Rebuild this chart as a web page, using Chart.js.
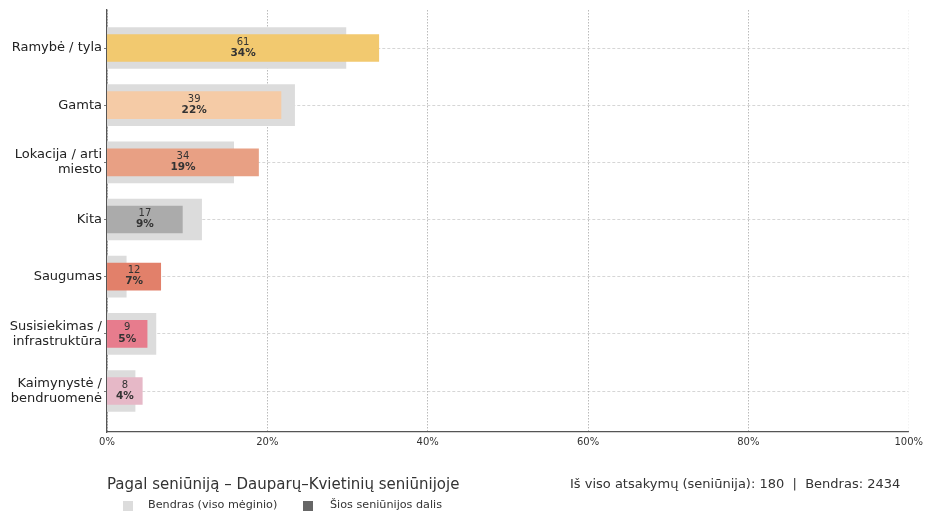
<!DOCTYPE html>
<html>
<head>
<meta charset="utf-8">
<script src="https://cdn.jsdelivr.net/npm/chart.js@4/dist/chart.umd.min.js"></script>
<style>
  html, body { margin: 0; padding: 0; background: #fff; }
  #wrap { position: relative; width: 927px; height: 511px; overflow: hidden; }
  #canvas { position: absolute; left: 0; top: 0; }
  .txt { position: absolute; white-space: pre; color: #333; font-family: "DejaVu Sans", sans-serif; }
  #title { left: 107px; top: 475px; font-size: 15px; }
  #info { left: 570px; top: 476px; font-size: 13px; }
  .sq { position: absolute; width: 10px; height: 10px; }
  .leg { font-size: 11.2px; top: 498px; }
</style>
</head>
<body>
<div id="wrap">
  <canvas id="canvas" width="927" height="511"></canvas>
  <div class="txt" id="title">Pagal seniūniją – Dauparų–Kvietinių seniūnijoje</div>
  <div class="txt" id="info">Iš viso atsakymų (seniūnija): 180  |  Bendras: 2434</div>
  <div class="sq" style="left:123px; top:501px; background:#dcdcdc;"></div>
  <div class="txt leg" style="left:148px;">Bendras (viso mėginio)</div>
  <div class="sq" style="left:303px; top:501px; background:#666;"></div>
  <div class="txt leg" style="left:330px;">Šios seniūnijos dalis</div>
</div>
<script>
  // kategorijos (eilutėmis, kaip ašyje)
  const categoryLines = [
    ['Ramybė / tyla'],
    ['Gamta'],
    ['Lokacija / arti', 'miesto'],
    ['Kita'],
    ['Saugumas'],
    ['Susisiekimas /', 'infrastruktūra'],
    ['Kaimynystė /', 'bendruomenė']
  ];
  const counts = [61, 39, 34, 17, 12, 9, 8];
  const districtPct = [33.9, 21.7, 18.9, 9.4, 6.7, 5.0, 4.4];
  const overallPct = [29.8, 23.4, 15.8, 11.8, 2.4, 6.1, 3.5];
  const barColors = ['#f2c96f', '#f5cba6', '#e8a084', '#ababab', '#e2806a', '#e77c8d', '#e6b8c7'];
  const xTicks = [0, 20, 40, 60, 80, 100];

  const ctx = document.getElementById('canvas').getContext('2d');

  // reikšmės ant stulpelių
  const valueLabels = {
    id: 'valueLabels',
    afterDatasetsDraw(chart) {
      const meta = chart.getDatasetMeta(0);
      const c = chart.ctx;
      c.save();
      c.textAlign = 'center';
      c.textBaseline = 'middle';
      c.fillStyle = '#333';
      meta.data.forEach(function(bar, i) {
        const cx = (bar.x + bar.base) / 2;
        c.font = '10px "DejaVu Sans"';
        c.fillText(String(counts[i]), cx, bar.y - 6);
        c.font = 'bold 10.5px "DejaVu Sans"';
        c.fillText(Math.round(districtPct[i]) + '%', cx, bar.y + 5);
      });
      c.restore();
    }
  };

  const data = {
    datasets: [
      {
        label: 'Šios seniūnijos dalis',
        data: districtPct.map(function(v, i) { return {x: v, y: i}; }),
        backgroundColor: barColors,
        barThickness: 27,
        grouped: false,
        order: 1
      },
      {
        label: 'Bendras (viso mėginio)',
        data: overallPct.map(function(v, i) { return {x: v, y: i}; }),
        backgroundColor: '#dcdcdc',
        barThickness: 41,
        grouped: false,
        order: 2
      }
    ]
  };

  const options = {
    responsive: false,
    animation: false,
    indexAxis: 'y',
    layout: { padding: { top: 10, right: 17, bottom: 57, left: 0 } },
    plugins: {
      legend: { display: false },
      tooltip: { enabled: false },
      title: { display: false }
    },
    scales: {
      y: {
        type: 'linear',
        reverse: true,
        offset: false,
        min: -0.665,
        max: 6.717,
        afterBuildTicks(scale) {
          scale.ticks = categoryLines.map(function(_, i) { return {value: i}; });
        },
        afterFit(scale) {
          scale.width = 107;
          scale.paddingTop = 0;
          scale.paddingBottom = 0;
        },
        ticks: {
          color: '#222',
          padding: 2,
          font: { family: '"DejaVu Sans"', size: 13, lineHeight: 1.15 },
          callback: function(v) { return categoryLines[v]; }
        },
        grid: {
          offset: false,
          color: '#cccccc',
          lineWidth: 0.8,
          tickColor: '#555',
          tickLength: 3,
          tickBorderDash: []
        },
        border: { color: '#555', width: 1.3, dash: [3, 2] }
      },
      x: {
        type: 'linear',
        min: 0,
        max: 100,
        afterBuildTicks(scale) {
          scale.ticks = xTicks.map(function(v) { return {value: v}; });
        },
        afterFit(scale) { scale.height = 22; },
        ticks: {
          color: '#333',
          padding: 4,
          font: { family: '"DejaVu Sans"', size: 10 },
          callback: function(v) { return v + '%'; }
        },
        grid: {
          drawTicks: false,
          color: function(c) { return c.tick && c.tick.value === 100 ? '#f0f0f0' : '#aaaaaa'; },
          lineWidth: 0.8
        },
        border: { color: '#555', width: 1.3, dash: [1.5, 1.5] }
      }
    }
  };

  const chart = new Chart(ctx, {
    type: 'bar',
    data: data,
    options: options,
    plugins: [valueLabels]
  });
</script>
</body>
</html>
